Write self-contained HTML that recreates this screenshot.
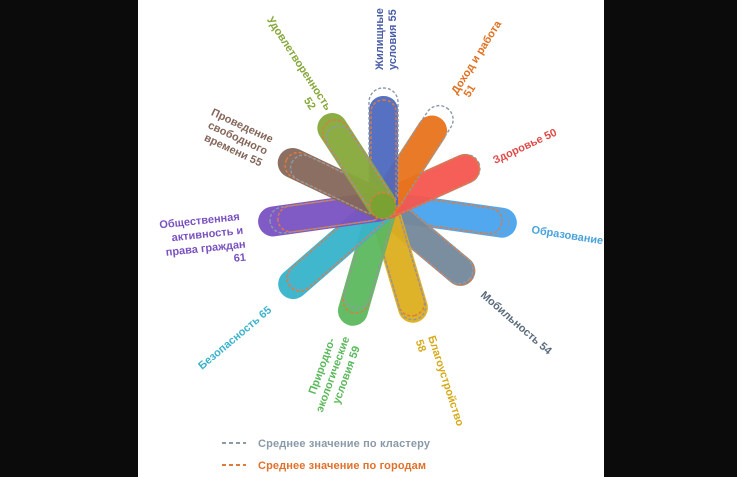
<!DOCTYPE html>
<html><head><meta charset="utf-8"><style>
html,body{margin:0;padding:0;background:#000;}
svg{display:block;}
text{font-family:"Liberation Sans",sans-serif;font-weight:bold;font-size:11px;}
</style></head><body>
<svg width="737" height="477" viewBox="0 0 737 477" xmlns="http://www.w3.org/2000/svg">
<rect x="0" y="0" width="737" height="477" fill="#0b0b0b"/>
<rect x="138" y="0" width="466" height="477" fill="#ffffff"/>

<g transform="translate(383,206)">
  <g transform="rotate(98)">
    <rect x="-15" y="-135" width="30" height="145" rx="15" fill="#49a3ee" opacity="0.95"/>
    <rect x="-13" y="-127" width="26" height="127" rx="13" fill="none" stroke="#8c9aa8" stroke-width="1.4" stroke-dasharray="3 2"/>
    <rect x="-13" y="-120" width="26" height="120" rx="13" fill="none" stroke="#e07a3c" stroke-width="1.4" stroke-dasharray="3 2"/>
  </g>
  <g transform="rotate(130)">
    <rect x="-15" y="-116" width="30" height="126" rx="15" fill="#74889a" opacity="0.95"/>
    <rect x="-14" y="-115" width="28" height="115" rx="14" fill="none" stroke="#e07a3c" stroke-width="1.4" stroke-dasharray="3 2"/>
    <rect x="-14" y="-113" width="28" height="113" rx="14" fill="none" stroke="#8c9aa8" stroke-width="1.4" stroke-dasharray="3 2"/>
  </g>
  <g transform="rotate(163.6)">
    <rect x="-15" y="-121" width="30" height="131" rx="15" fill="#dcae1e" opacity="0.95"/>
    <rect x="-13" y="-114" width="26" height="114" rx="13" fill="none" stroke="#e07a3c" stroke-width="1.4" stroke-dasharray="3 2"/>
    <rect x="-13" y="-118" width="26" height="118" rx="13" fill="none" stroke="#8c9aa8" stroke-width="1.4" stroke-dasharray="3 2"/>
  </g>
  <g transform="rotate(196)">
    <rect x="-15" y="-124" width="30" height="134" rx="15" fill="#5db85e" opacity="0.95"/>
    <rect x="-13" y="-111" width="26" height="111" rx="13" fill="none" stroke="#e07a3c" stroke-width="1.4" stroke-dasharray="3 2"/>
    <rect x="-13" y="-106" width="26" height="106" rx="13" fill="none" stroke="#8c9aa8" stroke-width="1.4" stroke-dasharray="3 2"/>
  </g>
  <g transform="rotate(229)">
    <rect x="-15" y="-134" width="30" height="144" rx="15" fill="#36b3c9" opacity="0.95"/>
    <rect x="-13" y="-123" width="26" height="123" rx="13" fill="none" stroke="#e07a3c" stroke-width="1.4" stroke-dasharray="3 2"/>
    <rect x="-13" y="-121" width="26" height="121" rx="13" fill="none" stroke="#8c9aa8" stroke-width="1.4" stroke-dasharray="3 2"/>
  </g>
  <g transform="rotate(65.7)">
    <rect x="-15" y="-105" width="30" height="115" rx="15" fill="#f5564f" opacity="0.95"/>
    <rect x="-14" y="-105" width="28" height="105" rx="14" fill="none" stroke="#8c9aa8" stroke-width="1.4" stroke-dasharray="3 2"/>
    <rect x="-14" y="-104" width="28" height="104" rx="14" fill="none" stroke="#e07a3c" stroke-width="1.4" stroke-dasharray="3 2"/>
  </g>
  <g transform="rotate(33)">
    <rect x="-15" y="-105" width="30" height="115" rx="15" fill="#e8731c" opacity="0.95"/>
    <rect x="-14" y="-117" width="28" height="117" rx="14" fill="none" stroke="#8c9aa8" stroke-width="1.4" stroke-dasharray="3 2"/>
  </g>
  <g>
    <rect x="-14" y="-110" width="29" height="120" rx="14" fill="#4d68bf" opacity="0.95"/>
    <rect x="-14" y="-118" width="29" height="118" rx="14" fill="none" stroke="#8c9aa8" stroke-width="1.4" stroke-dasharray="3 2"/>
    <rect x="-12" y="-106" width="25" height="106" rx="12" fill="none" stroke="#e07a3c" stroke-width="1.4" stroke-dasharray="3 2"/>
  </g>
  <g transform="rotate(262)">
    <rect x="-15" y="-126" width="30" height="136" rx="15" fill="#7a52c2" opacity="0.95"/>
    <rect x="-13" y="-114" width="26" height="114" rx="13" fill="none" stroke="#8c9aa8" stroke-width="1.4" stroke-dasharray="3 2"/>
    <rect x="-13" y="-106" width="26" height="106" rx="13" fill="none" stroke="#e07a3c" stroke-width="1.4" stroke-dasharray="3 2"/>
  </g>
  <g transform="rotate(295.5)">
    <rect x="-15" y="-115" width="30" height="125" rx="15" fill="#85675b" opacity="0.95"/>
    <rect x="-13" y="-107" width="26" height="107" rx="13" fill="none" stroke="#e07a3c" stroke-width="1.4" stroke-dasharray="3 2"/>
    <rect x="-13" y="-101" width="26" height="101" rx="13" fill="none" stroke="#8c9aa8" stroke-width="1.4" stroke-dasharray="3 2"/>
  </g>
  <g transform="rotate(327)">
    <rect x="-15" y="-108" width="30" height="118" rx="15" fill="#86a83a" opacity="0.95"/>
    <rect x="-13" y="-100" width="26" height="100" rx="13" fill="none" stroke="#e07a3c" stroke-width="1.4" stroke-dasharray="3 2"/>
    <rect x="-13" y="-93" width="26" height="93" rx="13" fill="none" stroke="#8c9aa8" stroke-width="1.4" stroke-dasharray="3 2"/>
  </g>
  <circle cx="0" cy="0" r="13" fill="#7aa232" stroke="#e07a3c" stroke-width="1.4" stroke-dasharray="3 2"/>
</g>

<text transform="translate(383,70) rotate(-90)" fill="#4a5ea8"><tspan x="0" y="0">Жилищные</tspan><tspan x="0" y="13">условия 55</tspan></text>
<text transform="translate(457,95) rotate(-58)" fill="#e07020"><tspan x="0" y="0">Доход и работа</tspan><tspan x="4" y="12">51</tspan></text>
<text transform="translate(495,164) rotate(-25)" fill="#e04a4a">Здоровье 50</text>
<text transform="translate(531,233) rotate(9)" fill="#4aa2dc">Образование</text>
<text transform="translate(480,296) rotate(41)" fill="#5c6c7c">Мобильность 54</text>
<text transform="translate(428,337) rotate(72)" fill="#d6aa1c"><tspan x="0" y="0">Благоустройство</tspan><tspan x="0" y="13">58</tspan></text>
<text transform="translate(327,368) rotate(-70)" fill="#5cb85c" text-anchor="middle"><tspan x="0" y="-2">Природно-</tspan><tspan x="-4" y="11">экологические</tspan><tspan x="0" y="24">условия 59</tspan></text>
<text transform="translate(202,370) rotate(-40)" fill="#3bb2cc">Безопасность 65</text>
<text transform="translate(240,220) rotate(-6)" fill="#7a52c0" text-anchor="end"><tspan x="0" y="0">Общественная</tspan><tspan x="2" y="14">активность и</tspan><tspan x="3" y="28">права граждан</tspan><tspan x="2" y="41">61</tspan></text>
<text transform="translate(271,143) rotate(25)" fill="#85675b" text-anchor="end"><tspan x="0" y="0">Проведение</tspan><tspan x="0" y="13">свободного</tspan><tspan x="0" y="26">времени 55</tspan></text>
<text transform="translate(326,111) rotate(57)" fill="#86a83a" text-anchor="end"><tspan x="0" y="0">Удовлетворенность</tspan><tspan x="-9" y="13">52</tspan></text>

<line x1="222" y1="443" x2="246" y2="443" stroke="#8c9aa8" stroke-width="2" stroke-dasharray="4 3"/>
<text x="258" y="447" fill="#8a9aa8" textLength="172">Среднее значение по кластеру</text>
<line x1="222" y1="465" x2="246" y2="465" stroke="#e07a3c" stroke-width="2" stroke-dasharray="4 3"/>
<text x="258" y="469" fill="#e0702a" textLength="168">Среднее значение по городам</text>
</svg>
</body></html>
